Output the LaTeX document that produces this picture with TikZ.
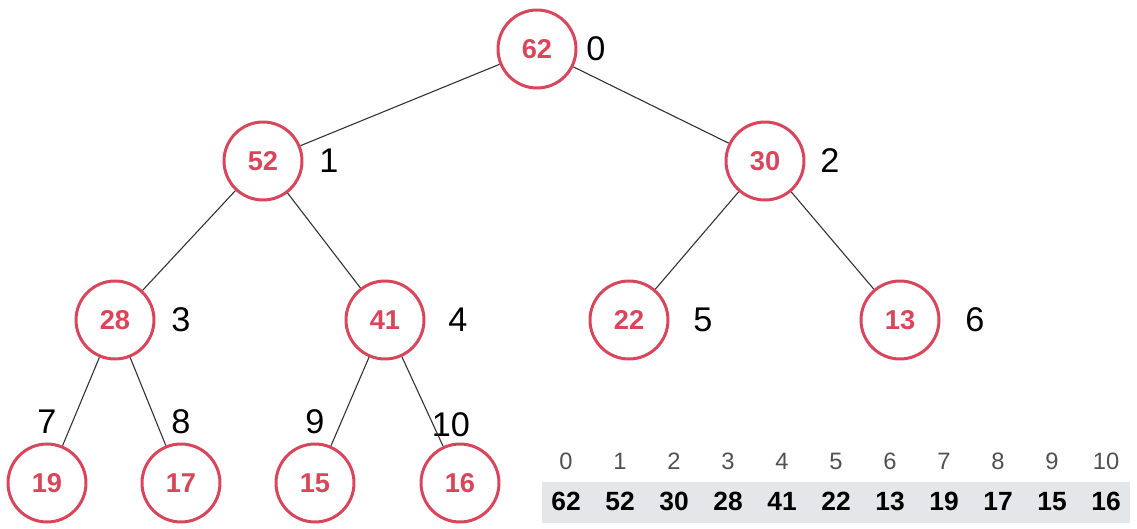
\documentclass[tikz,border=0pt]{standalone}
\usepackage{fontspec}
\setmainfont{Liberation Sans}
\usetikzlibrary{positioning}
\definecolor{heapred}{HTML}{D9455A}
\definecolor{cellgray}{HTML}{E4E6E9}
\definecolor{idxgray}{HTML}{505050}

\begin{document}
\begin{tikzpicture}[
        x=0.02cm, y=-0.02cm,
        key/.style={circle, draw=heapred, line width=0.06cm, minimum size=1.56cm, inner sep=0pt, text=heapred, font=\fontsize{15.5}{18}\selectfont\bfseries},
        place/.style={font=\fontsize{19.5}{22}\selectfont, inner sep=0pt},
        idx/.style={font=\fontsize{13.5}{16}\selectfont, text=idxgray, inner sep=0pt, text height=1.6ex, text depth=0pt},
        val/.style={font=\fontsize{15}{18}\selectfont\bfseries, inner sep=0pt, text height=1.6ex, text depth=0pt},
        edge/.style={draw=black!80, line width=0.022cm}
    ]
    \useasboundingbox (0,0) rectangle (1137,528);

    % Nodes
    \node (n0) [key] at (537,49) {62};
    \node (n1) [key] at (263,161) {52};
    \node (n2) [key] at (765,161) {30};
    \node (n3) [key] at (115,320) {28};
    \node (n4) [key] at (385,320) {41};
    \node (n5) [key] at (629,320) {22};
    \node (n6) [key] at (900,320) {13};
    \node (n7) [key] at (47,483) {19};
    \node (n8) [key] at (181,483) {17};
    \node (n9) [key] at (315,483) {15};
    \node (n10) [key] at (460,483) {16};

    % Index labels
    \node (p0) [place] at (596,49) {0};
    \node (p1) [place] at (329,161) {1};
    \node (p2) [place] at (830,161) {2};
    \node (p3) [place] at (181,320) {3};
    \node (p4) [place] at (458,320) {4};
    \node (p5) [place] at (703,320) {5};
    \node (p6) [place] at (975,320) {6};
    \node (p7) [place] at (47,422) {7};
    \node (p8) [place] at (181,422) {8};
    \node (p9) [place] at (315,422) {9};
    \node (p10) [place] at (451,425) {10};

    % Edges
    \draw [edge] (n0) -- (n1);
    \draw [edge] (n0) -- (n2);
    \draw [edge] (n1) -- (n3);
    \draw [edge] (n1) -- (n4);
    \draw [edge] (n2) -- (n5);
    \draw [edge] (n2) -- (n6);
    \draw [edge] (n3) -- (n7);
    \draw [edge] (n3) -- (n8);
    \draw [edge] (n4) -- (n9);
    \draw [edge] (n4) -- (n10);

    % Array
    \fill [cellgray] (542,482) rectangle (1130,523);
    \foreach \v [count=\i from 0] in {62,52,30,28,41,22,13,19,17,15,16} {
        \node (a\i) [val] at (566+54*\i,503) {\v};
        \node (i\i) [idx] at (566+54*\i,462) {\i};
    }

\end{tikzpicture}
\end{document}
